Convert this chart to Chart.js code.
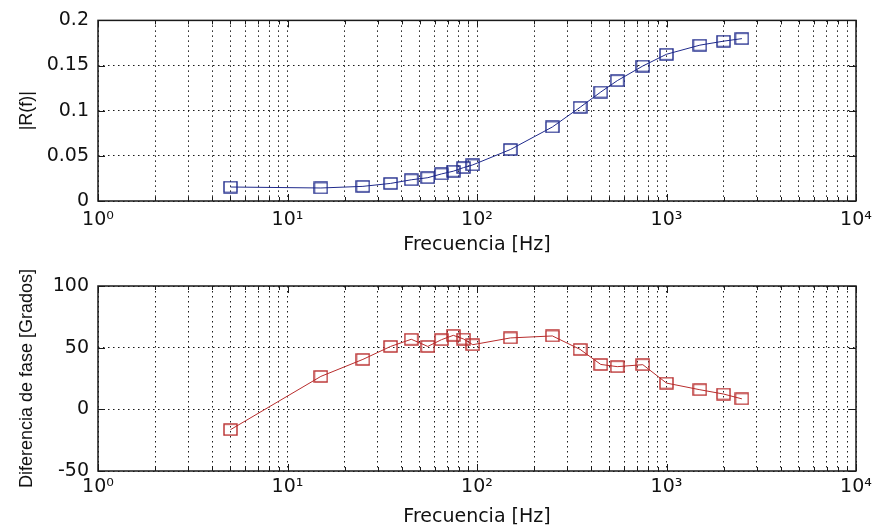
<!DOCTYPE html>
<html>
<head>
<meta charset="utf-8">
<script src="https://cdn.jsdelivr.net/npm/chart.js@4.4.1/dist/chart.umd.min.js"></script>
<style>
  html, body { margin: 0; padding: 0; background: #fff; }
  #wrap { position: relative; width: 874px; height: 529px; overflow: hidden; }
  canvas { position: absolute; left: 0; }
</style>
</head>
<body>
<div id="wrap">
  <canvas id="magChart" width="874" height="262" style="top:0"></canvas>
  <canvas id="phaseChart" width="874" height="267" style="top:262px"></canvas>
</div>
<script>
// frequencies (Hz) of the measurements
const freq = [5, 15, 25, 35, 45, 55, 65, 75, 85, 95, 150, 250, 350, 450, 550, 750, 1000, 1500, 2000, 2500];
// |R(f)|
const magnitude = [0.0155, 0.0144, 0.0162, 0.0195, 0.0235, 0.0258, 0.0300, 0.0330, 0.0370, 0.0400,
                   0.0570, 0.0820, 0.1038, 0.1207, 0.1333, 0.1495, 0.1625, 0.1726, 0.1770, 0.1798];
// phase difference (degrees)
const phase = [-16.5, 26.7, 40.5, 51, 56.8, 51, 56.5, 60, 57, 52.4,
               57.9, 59.5, 48.6, 36.4, 34.6, 36.2, 21.3, 15.9, 12.4, 8.5];

const xDecades = [1, 10, 100, 1000];
const xTickLabels = { 1: "10\u2070", 10: "10\u00B9", 100: "10\u00B2", 1000: "10\u00B3", 10000: "10\u2074" };
const magTicks = [0, 0.05, 0.1, 0.15, 0.2];
const magTickLabels = ["0", "0.05", "0.1", "0.15", "0.2"];
const phaseTicks = [-50, 0, 50, 100];
const phaseTickLabels = ["-50", "0", "50", "100"];

// log grid positions 1,2,...,9,10,20,...,10000
const xGrid = [];
xDecades.forEach(d => { for (let m = 1; m <= 9; m++) xGrid.push(d * m); });
xGrid.push(10000);

function boxMarker(color) {
    const c = document.createElement("canvas");
    c.width = 15; c.height = 13;
    const g = c.getContext("2d");
    g.strokeStyle = color;
    g.lineWidth = 1.4;
    g.strokeRect(1, 1, 13, 11);
    return c;
}

// MATLAB style box with inward tick marks
const boxPlugin = {
    id: "matlabBox",
    afterDraw(chart) {
        const { ctx, chartArea: a, scales: { x, y } } = chart;
        ctx.save();
        ctx.strokeStyle = "#1a1a1a";
        ctx.lineWidth = 1.5;
        ctx.strokeRect(a.left, a.top, a.right - a.left, a.bottom - a.top);
        ctx.lineWidth = 1;
        ctx.beginPath();
        x.ticks.forEach(t => {
            const px = Math.round(x.getPixelForValue(t.value)) + 0.5;
            const len = xTickLabels[t.value] ? 7 : 4;
            ctx.moveTo(px, a.bottom); ctx.lineTo(px, a.bottom - len);
            ctx.moveTo(px, a.top); ctx.lineTo(px, a.top + len);
        });
        y.ticks.forEach(t => {
            const py = Math.round(y.getPixelForValue(t.value)) + 0.5;
            ctx.moveTo(a.left, py); ctx.lineTo(a.left + 7, py);
            ctx.moveTo(a.right, py); ctx.lineTo(a.right - 7, py);
        });
        ctx.stroke();
        ctx.restore();
    }
};

const tickFont = { family: "DejaVu Sans", size: 19 };
const gridStyle = { color: "rgba(0,0,0,0.9)", lineWidth: 1, drawTicks: false };
const dotted = { display: false, dash: [1.5, 3.5] };

function makeChart(id, data, color, yTicks, yLabels, yTitle, canvasH, xTickPad, xTitlePad) {
    new Chart(document.getElementById(id), {
        type: "line",
        data: {
            datasets: [{
                data: freq.map((f, i) => ({ x: f, y: data[i] })),
                borderColor: color,
                borderWidth: 1,
                tension: 0,
                pointStyle: boxMarker(color),
                pointRadius: 7,
                fill: false
            }]
        },
        options: {
            responsive: false,
            animation: false,
            devicePixelRatio: 1,
            layout: { padding: { left: 0, right: 18, top: id === "magChart" ? 16 : 24, bottom: 0 } },
            plugins: { legend: { display: false }, tooltip: { enabled: false } },
            scales: {
                x: {
                    type: "logarithmic",
                    min: 1, max: 10000,
                    grid: gridStyle,
                    border: dotted,
                    afterBuildTicks: s => { s.ticks = xGrid.map(v => ({ value: v })); },
                    afterFit: s => {
                        s.height = canvasH - (id === "magChart" ? 201 : 209);
                        s.paddingLeft = 0;
                        s.paddingRight = 0;
                    },
                    ticks: {
                        autoSkip: false, maxRotation: 0, padding: xTickPad,
                        color: "#111", font: tickFont,
                        callback: v => xTickLabels[v] || ""
                    },
                    title: {
                        display: true, text: "Frecuencia [Hz]", color: "#111",
                        font: tickFont, padding: { top: 0, bottom: xTitlePad }
                    }
                },
                y: {
                    min: yTicks[0], max: yTicks[yTicks.length - 1],
                    grid: gridStyle,
                    border: dotted,
                    afterBuildTicks: s => { s.ticks = yTicks.map(v => ({ value: v })); },
                    afterFit: s => { s.width = 98; },
                    ticks: {
                        padding: 9, color: "#111", font: tickFont,
                        callback: (v, i) => yLabels[i]
                    },
                    title: {
                        display: true, text: yTitle, color: "#111",
                        font: { family: "Liberation Sans", size: 18 },
                        padding: { top: 16, bottom: 0 }
                    }
                }
            }
        },
        plugins: [boxPlugin]
    });
}

makeChart("magChart", magnitude, "#1f2a8c", magTicks, magTickLabels, "|R(f)|", 262, 8, 6);
makeChart("phaseChart", phase, "#b82c2c", phaseTicks, phaseTickLabels, "Diferencia de fase [Grados]", 267, 5, 1);
</script>
</body>
</html>
